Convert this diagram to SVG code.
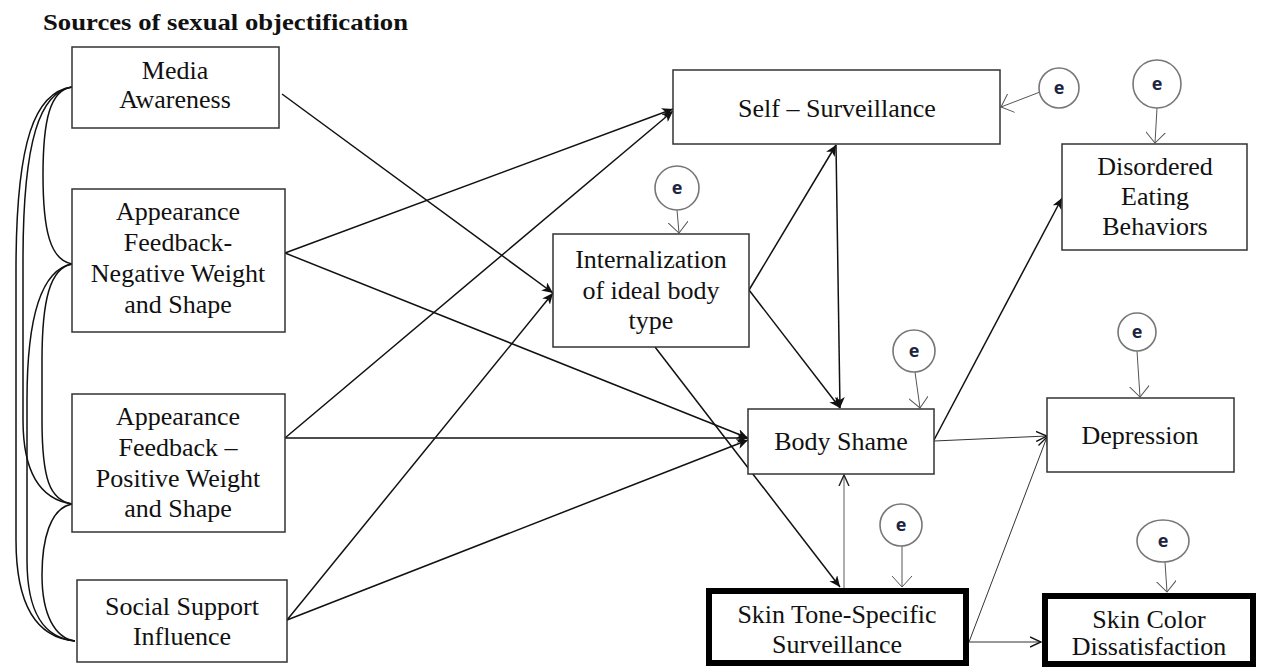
<svg xmlns="http://www.w3.org/2000/svg" width="1272" height="668" viewBox="0 0 1272 668">
<style>
.box{fill:#fff;stroke:#333;stroke-width:1.5}
.thick{fill:#fff;stroke:#000;stroke-width:6}
.t{font-family:"Liberation Serif","Times New Roman",serif;font-size:26px;fill:#111;text-anchor:middle}
.title{font-family:"Liberation Serif","Times New Roman",serif;font-size:23px;font-weight:bold;fill:#111}
.e{fill:#fff;stroke:#777;stroke-width:1.6}
.et{font-family:"Open Sans","Liberation Sans",sans-serif;font-size:18px;font-weight:bold;fill:#1c2540;text-anchor:middle}
.c{fill:none;stroke:#111;stroke-width:1.5}
.m{fill:none;stroke:#111;stroke-width:1.5;marker-end:url(#ah)}
.n{fill:none;stroke:#333;stroke-width:1;marker-end:url(#ahs)}
.g{fill:none;stroke:#777;stroke-width:1.2;marker-end:url(#ahg)}
.ea{fill:none;stroke:#555;stroke-width:1;marker-end:url(#ev)}
</style>
<defs>
<marker id="ah" markerUnits="userSpaceOnUse" viewBox="0 0 12 10" refX="11" refY="5" markerWidth="12" markerHeight="10" orient="auto">
<path d="M0,0 L11,5 L0,10 L3,5 Z" fill="#111"/>
</marker>
<marker id="ahs" markerUnits="userSpaceOnUse" viewBox="0 0 12 12" refX="11" refY="6" markerWidth="12" markerHeight="12" orient="auto">
<path d="M0,1 L11,6 L0,11" fill="none" stroke="#111" stroke-width="1.4"/>
</marker>
<marker id="ahg" markerUnits="userSpaceOnUse" viewBox="0 0 12 12" refX="11" refY="6" markerWidth="12" markerHeight="12" orient="auto">
<path d="M0,1 L11,6 L0,11" fill="none" stroke="#222" stroke-width="1.4"/>
</marker>
<marker id="ev" markerUnits="userSpaceOnUse" viewBox="0 0 12 20" refX="11" refY="10" markerWidth="12" markerHeight="20" orient="auto">
<path d="M0,0 L11,10 L0,20" fill="none" stroke="#555" stroke-width="1"/>
</marker>
</defs>
<rect width="1272" height="668" fill="#fff"/>
<text class="title" x="43" y="30" textLength="365" lengthAdjust="spacingAndGlyphs">Sources of sexual objectification</text>

<g id="connectors">
<path class="c" d="M72,87 C50,90 43,120 43,175 C43,230 50,260 72,264"/>
<path class="c" d="M72,87 C40,92 23,140 23,260 L23,420 C23,480 45,500 72,504"/>
<path class="c" d="M72,87 C35,92 16,140 16,270 L16,540 C16,610 40,638 75,641"/>
<path class="c" d="M72,264 C50,268 42,300 42,360 L42,420 C42,480 50,500 72,504"/>
<path class="c" d="M72,264 C40,270 27,320 27,400 L27,560 C27,615 45,638 75,641"/>
<path class="c" d="M72,504 C50,508 42,540 42,575 C42,615 55,638 75,641"/>
<line class="m" x1="282" y1="94" x2="553" y2="293"/>
<line class="m" x1="285" y1="253" x2="673" y2="109"/>
<line class="m" x1="285" y1="253" x2="748" y2="438"/>
<line class="m" x1="285" y1="438" x2="673" y2="111"/>
<line class="m" x1="285" y1="438" x2="748" y2="438"/>
<line class="m" x1="287" y1="620" x2="553" y2="293"/>
<line class="m" x1="287" y1="620" x2="748" y2="440"/>
<line class="m" x1="749" y1="290" x2="836" y2="145"/>
<line class="m" x1="749" y1="290" x2="840" y2="408"/>
<line class="m" x1="836" y1="145" x2="840" y2="408"/>
<line class="m" x1="655" y1="347" x2="840" y2="587"/>
<line class="g" x1="844" y1="588" x2="844" y2="475"/>
<line class="m" x1="934" y1="440" x2="1062" y2="198"/>
<line class="n" x1="934" y1="441" x2="1047" y2="436"/>
<line class="n" x1="969" y1="642" x2="1047" y2="437"/>
<line class="n" x1="969" y1="642" x2="1041" y2="642"/>
<line class="ea" x1="1040" y1="92" x2="1001" y2="107"/>
<line class="ea" x1="1157" y1="108" x2="1155" y2="143"/>
<line class="ea" x1="1137" y1="351" x2="1140" y2="397"/>
<line class="ea" x1="1165" y1="562" x2="1167" y2="592"/>
<line class="ea" x1="677" y1="210" x2="679" y2="233"/>
<line class="ea" x1="915" y1="372" x2="920" y2="408"/>
<line class="ea" x1="902" y1="546" x2="902" y2="587"/>
</g>

<g id="media"><rect class="box" x="72" y="47" width="207" height="81"/>
<text class="t" x="175" y="79">Media</text><text class="t" x="175" y="108">Awareness</text></g>

<g id="neg"><rect class="box" x="72" y="189" width="213" height="143"/>
<text class="t" x="178" y="220">Appearance</text><text class="t" x="178" y="251">Feedback-</text><text class="t" x="178" y="282">Negative Weight</text><text class="t" x="178" y="313">and Shape</text></g>

<g id="pos"><rect class="box" x="72" y="394" width="213" height="138"/>
<text class="t" x="178" y="425">Appearance</text><text class="t" x="178" y="456">Feedback –</text><text class="t" x="178" y="487">Positive Weight</text><text class="t" x="178" y="517">and Shape</text></g>

<g id="social"><rect class="box" x="77" y="580" width="210" height="82"/>
<text class="t" x="182" y="615">Social Support</text><text class="t" x="182" y="645">Influence</text></g>

<g id="selfsurv"><rect class="box" x="673" y="70" width="327" height="74"/>
<text class="t" x="837" y="117">Self – Surveillance</text></g>

<g id="internal"><rect class="box" x="553" y="234" width="196" height="113"/>
<text class="t" x="651" y="268">Internalization</text><text class="t" x="651" y="299">of ideal body</text><text class="t" x="651" y="329">type</text></g>

<g id="bodyshame"><rect class="box" x="748" y="409" width="186" height="65"/>
<text class="t" x="841" y="450">Body Shame</text></g>

<g id="skintone"><rect class="thick" x="709" y="591" width="257" height="72"/>
<text class="t" x="837" y="623">Skin Tone-Specific</text><text class="t" x="837" y="653">Surveillance</text></g>

<g id="disordered"><rect class="box" x="1062" y="144" width="185" height="106"/>
<text class="t" x="1155" y="175">Disordered</text><text class="t" x="1155" y="205">Eating</text><text class="t" x="1155" y="235">Behaviors</text></g>

<g id="depression"><rect class="box" x="1047" y="398" width="187" height="74"/>
<text class="t" x="1140" y="444">Depression</text></g>

<g id="skincolor"><rect class="thick" x="1045" y="596" width="208" height="68"/>
<text class="t" x="1149" y="628">Skin Color</text><text class="t" x="1149" y="655">Dissatisfaction</text></g>

<g id="e-self"><circle class="e" cx="1059" cy="88" r="20"/><text class="et" x="1059" y="94">e</text></g>
<g id="e-dis"><circle class="e" cx="1157" cy="84" r="24"/><text class="et" x="1157" y="90">e</text></g>
<g id="e-dep"><circle class="e" cx="1137" cy="332" r="19"/><text class="et" x="1137" y="338">e</text></g>
<g id="e-skincolor"><ellipse class="e" cx="1163" cy="541" rx="26" ry="21"/><text class="et" x="1163" y="547">e</text></g>
<g id="e-int"><circle class="e" cx="677" cy="188" r="22"/><text class="et" x="677" y="194">e</text></g>
<g id="e-bs"><circle class="e" cx="914" cy="351" r="21"/><text class="et" x="914" y="357">e</text></g>
<g id="e-st"><circle class="e" cx="901" cy="525" r="21"/><text class="et" x="901" y="531">e</text></g>
</svg>
